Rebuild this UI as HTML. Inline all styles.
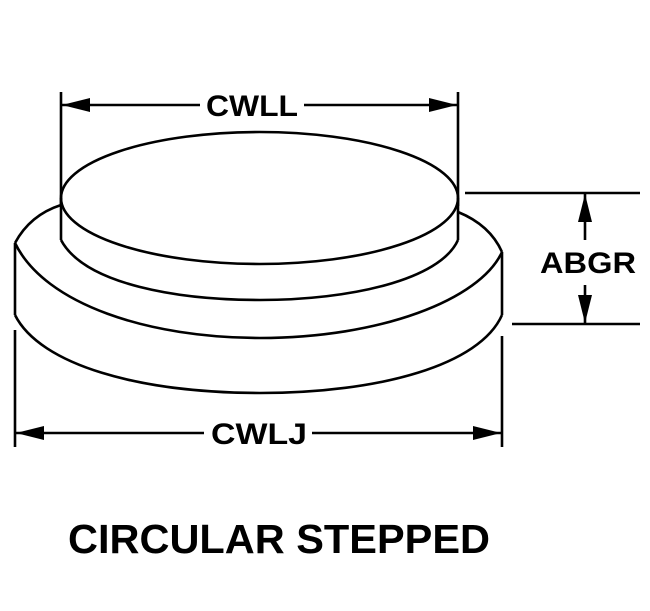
<!DOCTYPE html>
<html><head><style>
html,body{margin:0;padding:0;background:#fff;}
svg{display:block;}
text{font-family:"Liberation Sans",Arial,sans-serif;font-weight:bold;fill:#000;}
</style></head><body>
<svg width="650" height="611" viewBox="0 0 650 611" xmlns="http://www.w3.org/2000/svg">
<g fill="none" stroke="#000" stroke-width="2.6">
<ellipse cx="259.5" cy="198" rx="198.5" ry="66"/>
<line x1="61" y1="198" x2="61" y2="240"/>
<line x1="458" y1="198" x2="458" y2="240"/>
<path d="M61,240 C85,285 180,300 260,300 C350,300 440,280 458,240"/>
<path d="M61,205 Q30,215 15,243"/>
<path d="M458,212 Q490,225 502,252"/>
<path d="M15,243 C45,305 150,338 260,338 C380,338 480,300 502,252"/>
<line x1="15" y1="243" x2="15" y2="315"/>
<line x1="502" y1="252" x2="502" y2="315"/>
<path d="M15,315 C40,365 140,393 260,393 C380,393 480,365 502,315"/>
<line x1="61" y1="92" x2="61" y2="204"/>
<line x1="458" y1="92" x2="458" y2="206"/>
<line x1="15" y1="330" x2="15" y2="447"/>
<line x1="502" y1="336" x2="502" y2="447"/>
<line x1="465" y1="193" x2="640" y2="193"/>
<line x1="512" y1="324" x2="640" y2="324"/>
<line x1="62" y1="105" x2="200" y2="105"/>
<line x1="304" y1="105" x2="457" y2="105"/>
<line x1="16" y1="433" x2="204" y2="433"/>
<line x1="312" y1="433" x2="501" y2="433"/>
<line x1="585" y1="194" x2="585" y2="240"/>
<line x1="585" y1="285" x2="585" y2="323"/>
</g>
<g fill="#000">
<polygon points="62,105 90,98 90,112"/>
<polygon points="457,105 429,98 429,112"/>
<polygon points="16,433 44,426 44,440"/>
<polygon points="501,433 473,426 473,440"/>
<polygon points="585,194 578,222 592,222"/>
<polygon points="585,323 578,295 592,295"/>
</g>
<text x="206" y="116" font-size="30" textLength="92" lengthAdjust="spacingAndGlyphs">CWLL</text>
<text x="211" y="444" font-size="30" textLength="96" lengthAdjust="spacingAndGlyphs">CWLJ</text>
<text x="540" y="273" font-size="30" textLength="96" lengthAdjust="spacingAndGlyphs">ABGR</text>
<text x="68" y="553" font-size="41" textLength="422" lengthAdjust="spacingAndGlyphs">CIRCULAR STEPPED</text>
</svg>
</body></html>
